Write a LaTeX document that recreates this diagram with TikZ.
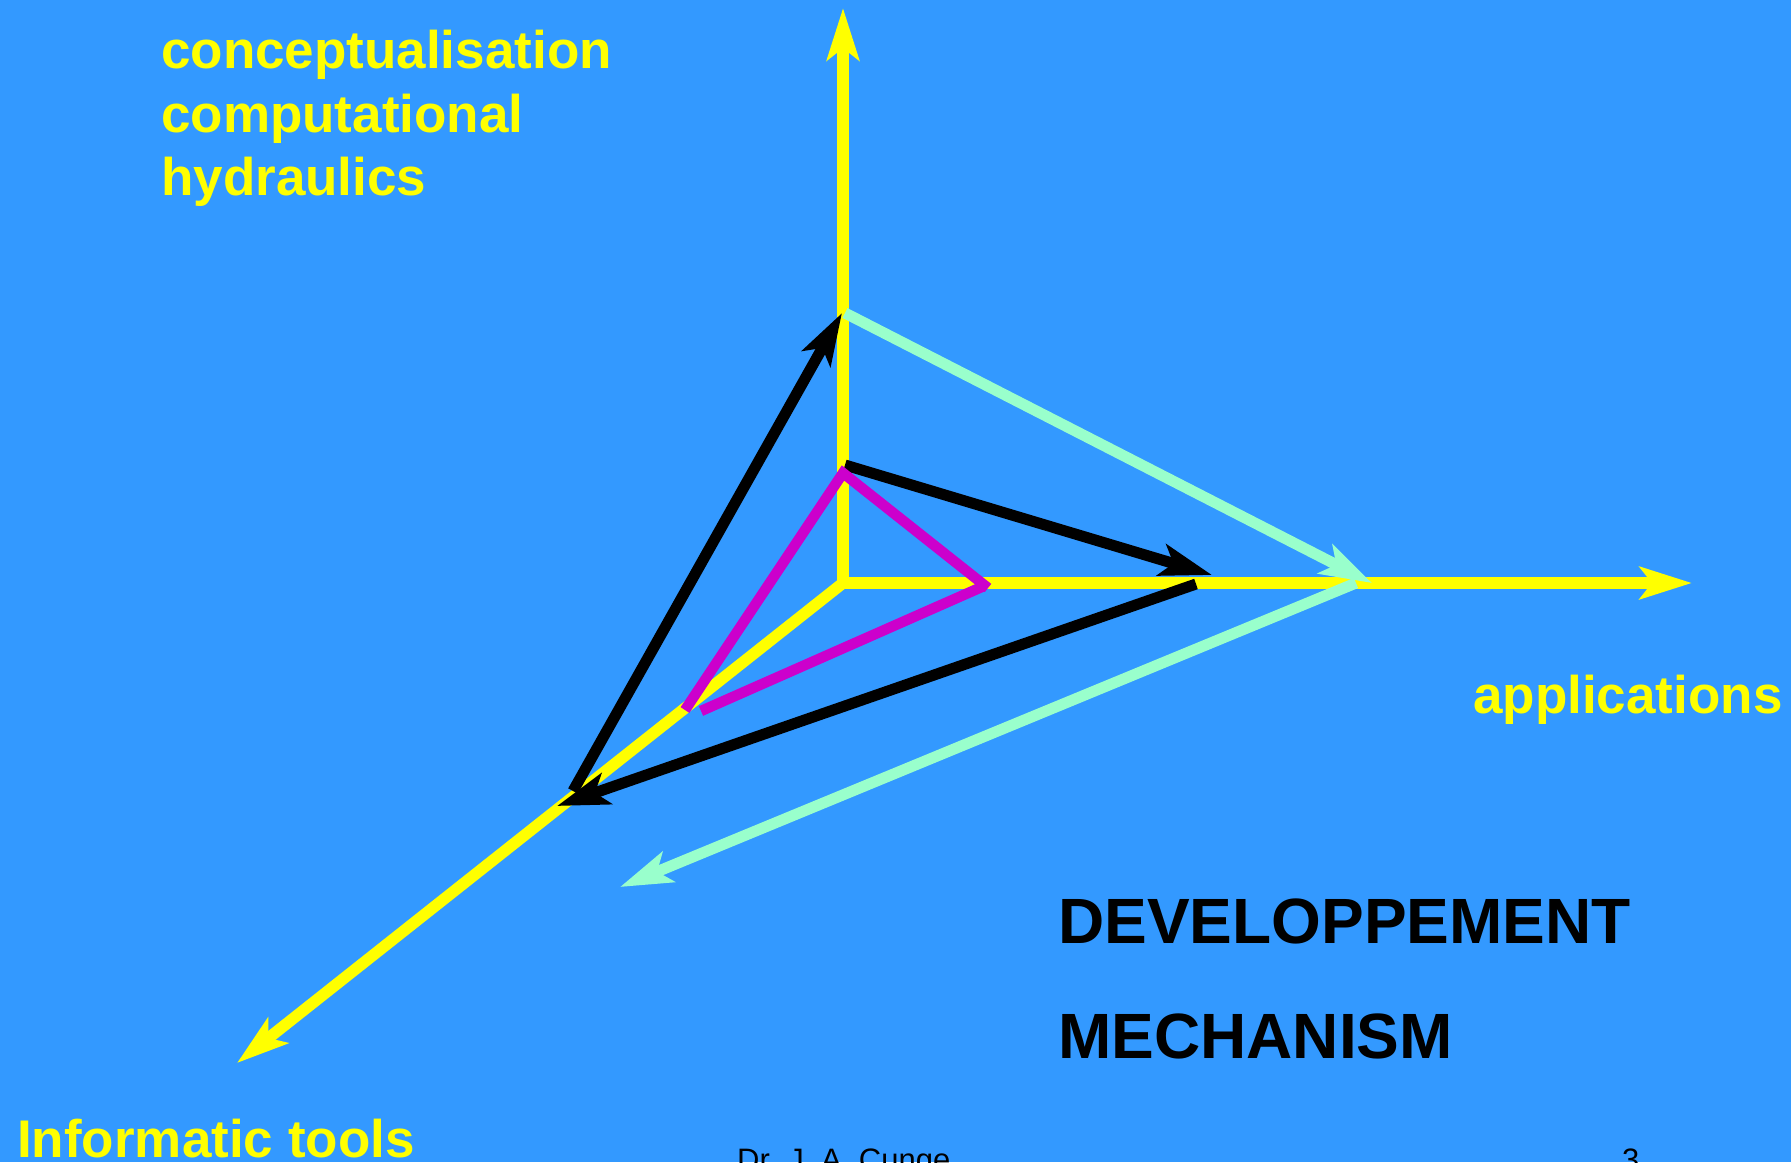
\documentclass[tikz,border=0pt]{standalone}
\usepackage{fontspec}
\setmainfont{Liberation Sans}
\usetikzlibrary{arrows.meta,calc}
\definecolor{bgblue}{HTML}{3399FF}
\definecolor{axisyellow}{HTML}{FFFF00}
\definecolor{aqua}{HTML}{99FFCC}
\definecolor{violet}{HTML}{CC00CC}
\tikzset{
  tip/.tip={Stealth[length=52pt,width=32pt,inset=12pt]},
  axis/.style={draw=axisyellow,line width=11.5pt,-tip},
  aqualine/.style={draw=aqua,line width=11pt,-tip},
  blackarrow/.style={draw=black,line width=11pt,-tip},
  violetline/.style={draw=violet,line width=10.5pt},
  ylabel/.style={text=axisyellow,font=\bfseries\fontsize{53}{63}\selectfont,anchor=base west,inner sep=0pt},
  title/.style={text=black,font=\bfseries\fontsize{64}{76}\selectfont,anchor=base west,inner sep=0pt},
  footer/.style={text=black,font=\fontsize{31}{37}\selectfont,anchor=base west,inner sep=0pt}
}
\begin{document}
\begin{tikzpicture}[x=1pt,y=-1pt]
  \fill[bgblue] (0,0) rectangle (1791,1162);
  \useasboundingbox (0,0) rectangle (1791,1162);

  % axes
  \coordinate (O) at (843,583);
  \coordinate (Ytop) at (843,8);
  \coordinate (Xtip) at (1692,583);
  \coordinate (Ztip) at (237,1063);
  \draw[axis,tip-tip,line join=miter] (Ytop) -- (O) -- (Xtip);
  \draw[axis] ($(O)!-5pt!(Ztip)$) -- (Ztip);

  % outer triangle
  \coordinate (C1s) at (845,313);
  \coordinate (C1t) at (1372,583);
  \coordinate (C2s) at (1356,583);
  \coordinate (C2t) at (620,887);
  \draw[aqualine] (C1s) -- (C1t);
  \draw[aqualine] (C2s) -- (C2t);

  % development arrows
  \coordinate (P1) at (573,791);
  \coordinate (Q1) at (842,313);
  \coordinate (P2) at (845,465);
  \coordinate (Q2) at (1212,575);
  \coordinate (P3) at (1196,584);
  \coordinate (Q3) at (557,806);
  \draw[blackarrow] (P1) -- (Q1);
  \draw[blackarrow] (P2) -- (Q2);
  \draw[blackarrow] (P3) -- (Q3);

  % inner triangle
  \coordinate (Ca) at (685,710);
  \coordinate (A) at (843,473);
  \coordinate (B) at (988,588);
  \coordinate (Bb) at (984,586);
  \coordinate (Cb) at (701,711);
  \draw[violetline,line join=miter] (Ca) -- (A) -- (B);
  \draw[violetline] (Bb) -- (Cb);

  % labels
  \node[ylabel] (l1) at (161,68) {conceptualisation};
  \node[ylabel] (l2) at (161,132) {computational};
  \node[ylabel] (l3) at (161,195) {hydraulics};
  \node[ylabel] (app) at (1473,713) {applications};
  \node[ylabel] (inf) at (17,1157) {Informatic tools};
  \node[title] (dev) at (1058,943) {DEVELOPPEMENT};
  \node[title] (mech) at (1058,1058) {MECHANISM};
  \node[footer] (auth) at (737,1170) {Dr. J. A. Cunge};
  \node[footer] (page) at (1622,1170) {3};
\end{tikzpicture}
\end{document}
